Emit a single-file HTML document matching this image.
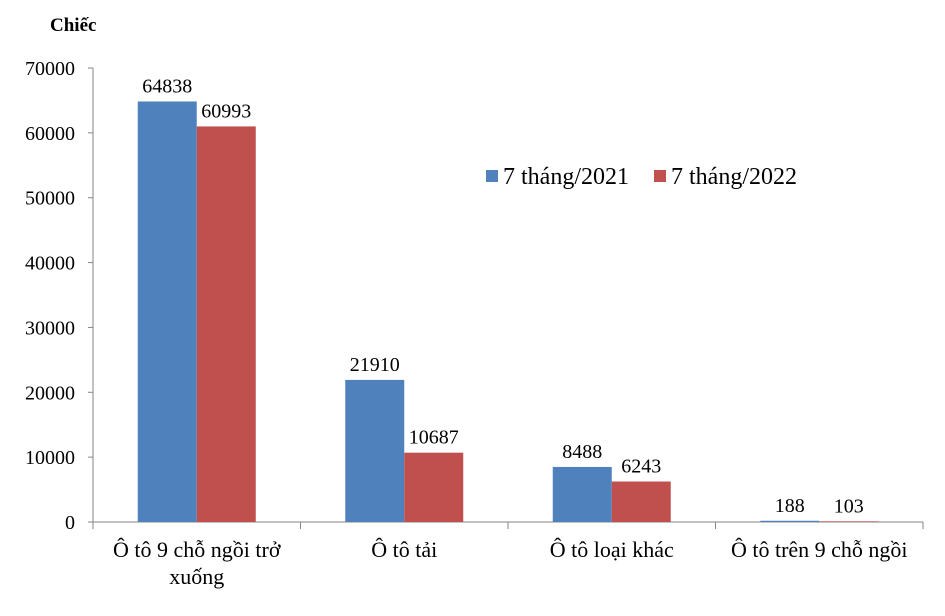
<!DOCTYPE html>
<html><head><meta charset="utf-8"><style>
html,body{margin:0;padding:0;background:#fff;}
svg, svg text{font-family:"Liberation Serif","Times New Roman",serif !important;fill:#000;}
</style></head><body>
<svg id="chart" width="945" height="611" xmlns="http://www.w3.org/2000/svg" font-family="Liberation Serif, serif" style="font-family:'Liberation Serif',serif">
<text x="50" y="31" font-size="19" font-weight="bold" font-family="Liberation Serif, serif">Chiếc</text>
<g id="yaxis"></g><g id="xaxis"></g><g id="bars"></g>
<g>
<rect x="486" y="170" width="12" height="12" fill="#4f81bd"/>
<text x="503" y="184" font-size="24" font-family="Liberation Serif, serif">7 tháng/2021</text>
<rect x="654" y="170" width="12" height="12" fill="#c0504d"/>
<text x="671" y="184" font-size="24" font-family="Liberation Serif, serif">7 tháng/2022</text>
</g>
</svg>
<script>
const categories = ["Ô tô 9 chỗ ngồi trở|xuống","Ô tô tải","Ô tô loại khác","Ô tô trên 9 chỗ ngồi"];
const series2021 = [64838,21910,8488,188];
const series2022 = [60993,10687,6243,103];
const yTicks = [0,10000,20000,30000,40000,50000,60000,70000];
const NS="http://www.w3.org/2000/svg";
const FF="Liberation Serif, serif";
const x0=93,x1=923,yTop=68,yBot=522,yMax=70000;
const bw=(x1-x0)/categories.length, barW=59;
const y=v=>yBot-(v/yMax)*(yBot-yTop);
function mk(tag,attrs,parent,txt){const e=document.createElementNS(NS,tag);for(const k in attrs)e.setAttribute(k,attrs[k]);if(tag==='text')e.setAttribute('font-family',FF);if(txt!==undefined)e.textContent=txt;parent.appendChild(e);return e;}
const ya=document.getElementById('yaxis'),xa=document.getElementById('xaxis'),bg=document.getElementById('bars');
let l=mk('line',{x1:x0,y1:yTop,x2:x0,y2:yBot,stroke:'#868686'},ya);


yTicks.forEach(t=>{
  const tk=mk('line',{x1:x0-5,y1:y(t),x2:x0,y2:y(t),stroke:'#868686'},ya);
  
  
  const tx=mk('text',{x:x0-18,y:y(t)+7,'font-size':20,'text-anchor':'end'},ya,String(t));
  
  
});
l=mk('line',{x1:x0,y1:yBot,x2:x1,y2:yBot,stroke:'#868686'},xa);


for(let i=0;i<=categories.length;i++){
  const tk=mk('line',{x1:x0+i*bw,y1:yBot,x2:x0+i*bw,y2:yBot+7,stroke:'#868686'},xa);
  
  
}
categories.forEach((c,i)=>{
  const cx=x0+(i+0.5)*bw;
  c.split('|').forEach((ln,j)=>{
    const t=mk('text',{x:cx,y:557+j*27,'font-size':22,'text-anchor':'middle'},xa,ln);
    
    
  });
  [[series2021,'#4f81bd',-1],[series2022,'#c0504d',0]].forEach(([s,col,off])=>{
    const bx=cx+off*barW, v=s[i];
    const r=mk('rect',{x:bx,y:y(v),width:barW,height:yBot-y(v),fill:col},bg);
    
    
    const t=mk('text',{x:bx+barW/2,y:y(v)-9,'font-size':20,'text-anchor':'middle'},bg,String(v));
    
    
  });
});
</script>
</body></html>
